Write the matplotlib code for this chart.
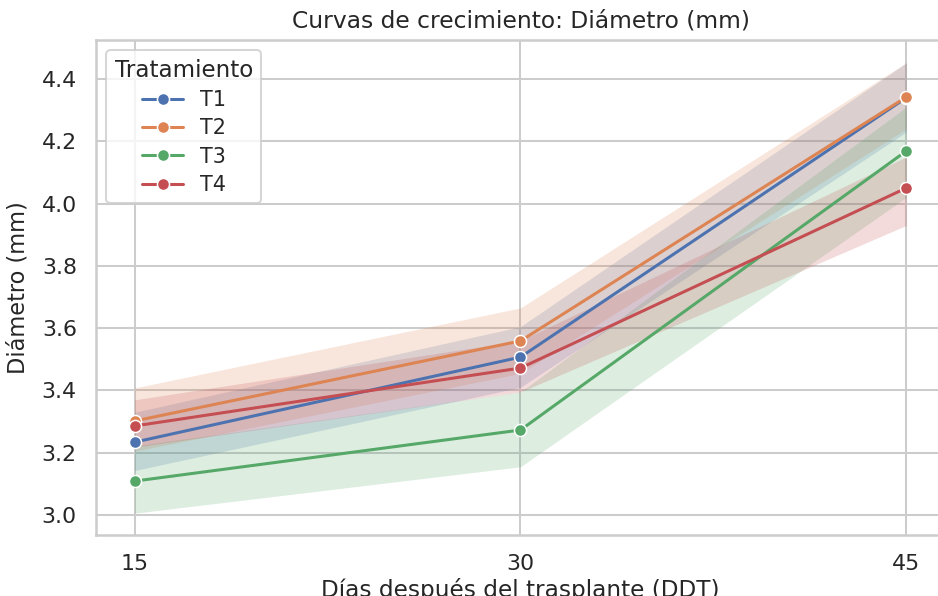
import matplotlib
matplotlib.use("Agg")
import matplotlib.pyplot as plt
import seaborn as sns

sns.set_theme(style="whitegrid", context="notebook")
plt.rcParams['font.family'] = ['DejaVu Sans']

dias = [15, 30, 45]
tratamientos = ["T1", "T2", "T3", "T4"]
media = {
    "T1": [3.234, 3.507, 4.340],
    "T2": [3.302, 3.559, 4.342],
    "T3": [3.109, 3.273, 4.169],
    "T4": [3.286, 3.472, 4.050],
}
ci_bajo = {
    "T1": [3.143, 3.410, 4.230],
    "T2": [3.205, 3.455, 4.240],
    "T3": [3.006, 3.155, 4.020],
    "T4": [3.218, 3.395, 3.930],
}
ci_alto = {
    "T1": [3.330, 3.605, 4.452],
    "T2": [3.408, 3.665, 4.452],
    "T3": [3.222, 3.395, 4.310],
    "T4": [3.370, 3.560, 4.150],
}

colores = sns.color_palette("deep", 4)

dpi = 145
fig = plt.figure(figsize=(938 / dpi, 596 / dpi), dpi=dpi)
ax = fig.add_axes([96 / 938, 1 - 535 / 596, (945 - 96) / 938, 495 / 596])

for t, c in zip(tratamientos, colores):
    ax.fill_between(dias, ci_bajo[t], ci_alto[t], color=c, alpha=0.2, linewidth=0)
    ax.plot(dias, media[t], color=c, marker="o", markersize=6,
            markeredgecolor="white", markeredgewidth=0.75, linewidth=1.5, label=t)

ax.set_xlim(13.5, 46.5)
ax.set_ylim(2.936, 4.525)
ax.set_xticks(dias)
ax.set_yticks([3.0, 3.2, 3.4, 3.6, 3.8, 4.0, 4.2, 4.4])
ax.tick_params(labelsize=11)
ax.set_title("Curvas de crecimiento: Diámetro (mm)", fontsize=11.6)
ax.set_xlabel("Días después del trasplante (DDT)", fontsize=11.5, labelpad=2)
ax.set_ylabel("Diámetro (mm)", fontsize=11.2, labelpad=6)
leg = ax.legend(title="Tratamiento", loc="upper left", fontsize=10.3,
                title_fontsize=11.4, labelspacing=0.4)

fig.savefig("out.png", dpi=dpi)
